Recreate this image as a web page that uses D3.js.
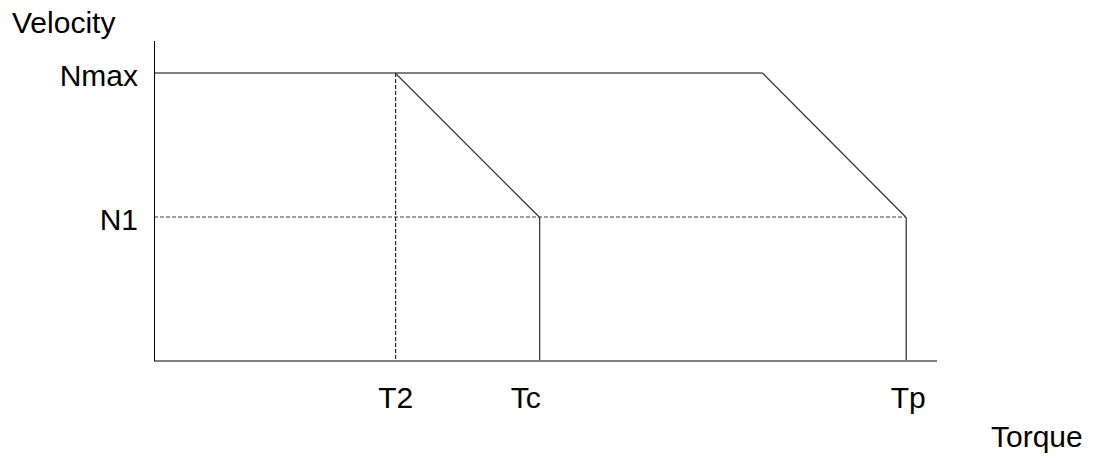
<!DOCTYPE html>
<html><head><meta charset="utf-8">
<script src="https://cdn.jsdelivr.net/npm/d3@7"></script>
<style>
html,body{margin:0;padding:0;background:#fff;}
text{font-family:"Liberation Sans",Arial,sans-serif;fill:#000;}
</style></head>
<body>
<svg id="chart" width="1096" height="456"></svg>
<script>
// Data (arbitrary units)
const torqueTicks = ["T2", "Tc", "Tp"];
const torqueValues = [30.8, 49.2, 96.0];
const velocityTicks = ["Nmax", "N1"];
const velocityValues = [90, 45];
const kneeTorque = 77.7;          // where peak curve starts descending
const xLabel = "Torque";
const yLabel = "Velocity";

const W = 1096, H = 456;
const margin = {left:154, right:159, top:41, bottom:95};
const FS = 30;
const svg = d3.select("#chart");
const x = d3.scaleLinear().domain([0,100]).range([margin.left, W - margin.right]);
const y = d3.scaleLinear().domain([0,100]).range([H - margin.bottom, margin.top]);

const [T2, Tc, Tp] = torqueValues;
const [Nmax, N1] = velocityValues;
const line = d3.line().x(d=>x(d[0])).y(d=>y(d[1]));

// N1 dashed grey
svg.append("path").attr("d", line([[0,N1],[Tp,N1]]))
  .attr("fill","none").attr("stroke","#7f7f7f").attr("stroke-width",1.5).attr("stroke-dasharray","4,2");
// T2 vertical dashed
svg.append("path").attr("d", line([[T2,Nmax],[T2,0]]))
  .attr("fill","none").attr("stroke","#000").attr("stroke-width",1).attr("stroke-dasharray","4,2")
  .attr("transform","translate(0.5,0)");
// Nmax horizontal
svg.append("path").attr("d", line([[0,Nmax],[kneeTorque,Nmax]]))
  .attr("fill","none").attr("stroke","#7f7f7f").attr("stroke-width",2);
// Peak diagonal
svg.append("path").attr("d", line([[kneeTorque,Nmax],[Tp,N1]]))
  .attr("fill","none").attr("stroke","#333").attr("stroke-width",1.2);
// Continuous diagonal
svg.append("path").attr("d", line([[T2,Nmax],[Tc,N1]]))
  .attr("fill","none").attr("stroke","#333").attr("stroke-width",1.2);
// Tc and Tp verticals
[Tc, Tp].forEach(t=>{
  svg.append("path").attr("d", line([[t,N1],[t,0]]))
    .attr("fill","none").attr("stroke","#000").attr("stroke-width",1)
    .attr("transform","translate(0.5,0)");
});

// Axes lines
svg.append("line").attr("x1",x(0)).attr("x2",x(100)).attr("y1",y(0)).attr("y2",y(0))
  .attr("stroke","#7f7f7f").attr("stroke-width",2);
svg.append("line").attr("x1",x(0)+0.5).attr("x2",x(0)+0.5).attr("y1",y(0)).attr("y2",y(100))
  .attr("stroke","#000").attr("stroke-width",1);

// Tick labels via axes (no tick lines/domain)
const xAxis = d3.axisBottom(x).tickValues(torqueValues)
  .tickFormat((d,i)=>torqueTicks[i]).tickSize(0).tickPadding(0);
const gx = svg.append("g").attr("transform",`translate(0,${y(0)})`).call(xAxis);
gx.select(".domain").remove();
gx.selectAll("text").attr("font-size",FS).attr("dy",null).attr("y",47)
  .attr("font-family","Liberation Sans, Arial, sans-serif")
  .attr("dx",(d,i)=> i===1 ? -14 : (i===2 ? 2 : 0));

const yAxis = d3.axisLeft(y).tickValues(velocityValues)
  .tickFormat((d,i)=>velocityTicks[i]).tickSize(0).tickPadding(16);
const gy = svg.append("g").attr("transform",`translate(${x(0)},0)`).call(yAxis);
gy.select(".domain").remove();
gy.selectAll("text").attr("font-size",FS).attr("dy","0.4em")
  .attr("font-family","Liberation Sans, Arial, sans-serif");

svg.append("text").attr("x",12).attr("y",33).attr("font-size",FS).text(yLabel);
svg.append("text").attr("x",991).attr("y",447).attr("font-size",FS).text(xLabel);
</script>
</body></html>
